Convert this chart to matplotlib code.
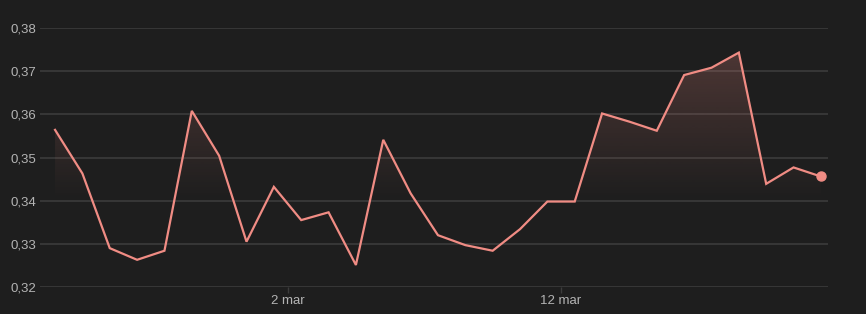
import matplotlib
matplotlib.use("Agg")
import matplotlib.pyplot as plt
import matplotlib.dates as mdates
import numpy as np
import pandas as pd

# daily values, 21 feb - 21 mar (points sit at midday)
dates = pd.date_range("2025-02-21 12:00", periods=29, freq="D")
values = [
    0.3564, 0.3463, 0.3290, 0.3263, 0.3284, 0.3608, 0.3504, 0.3305, 0.3432,
    0.3355, 0.3373, 0.3251, 0.3541, 0.3417, 0.3320, 0.3297, 0.3284, 0.3334,
    0.3398, 0.3398, 0.3602, 0.3583, 0.3562, 0.3691, 0.3708, 0.3743, 0.3439,
    0.3477, 0.3456,
]
tick_dates = [pd.Timestamp("2025-03-02"), pd.Timestamp("2025-03-12")]
tick_labels = ["2 mar", "12 mar"]
y_ticks = [0.32, 0.33, 0.34, 0.35, 0.36, 0.37, 0.38]

BG = "#1e1e1e"
LINE = "#f08c84"
GRID = "#3c3c3c"
TEXT = "#b4b4b4"

plt.rcParams["font.family"] = ["Liberation Sans", "DejaVu Sans"]

fig = plt.figure(figsize=(8.66, 3.14), dpi=100, facecolor=BG)
ax = fig.add_axes([40 / 866, 27 / 314, 788 / 866, 259 / 314])
ax.set_facecolor(BG)

x = mdates.date2num(dates)
y = np.array(values)

ax.set_xlim(x[0] - 0.55, x[-1] + 0.26)
ax.set_ylim(0.32, 0.38)

# gradient area under the line
poly = ax.fill_between(x, y, 0.32, color="none", lw=0)
grad = np.zeros((200, 1, 4))
grad[:, 0, :3] = matplotlib.colors.to_rgb(LINE)
yy = np.linspace(0.38, 0.32, 200)
grad[:, 0, 3] = np.clip((yy - 0.340) / (0.38 - 0.340), 0, 1) * 0.26
img = ax.imshow(grad, aspect="auto", extent=[x[0], x[-1], 0.32, 0.38],
                origin="upper", zorder=1, interpolation="bilinear")
img.set_clip_path(poly.get_paths()[0], transform=ax.transData)

ax.plot(x, y, color=LINE, lw=1.6, zorder=3, solid_joinstyle="miter")
ax.plot(x[-1], y[-1], "o", color=LINE, ms=6.5, zorder=4)

ax.set_yticks(y_ticks)
ax.set_yticklabels([f"{v:.2f}".replace(".", ",") for v in y_ticks])
ax.set_xticks(mdates.date2num(tick_dates))
ax.set_xticklabels(tick_labels)
ax.grid(axis="y", color=GRID, lw=1.2)
ax.set_axisbelow(True)
ax.tick_params(axis="y", length=0, pad=3, labelsize=9.5, colors=TEXT)
ax.tick_params(axis="x", length=4, width=1, color=GRID, pad=2,
               labelsize=9.5, colors=TEXT, direction="out")
for s in ax.spines.values():
    s.set_visible(False)

fig.savefig("out.png", dpi=100, facecolor=BG)
